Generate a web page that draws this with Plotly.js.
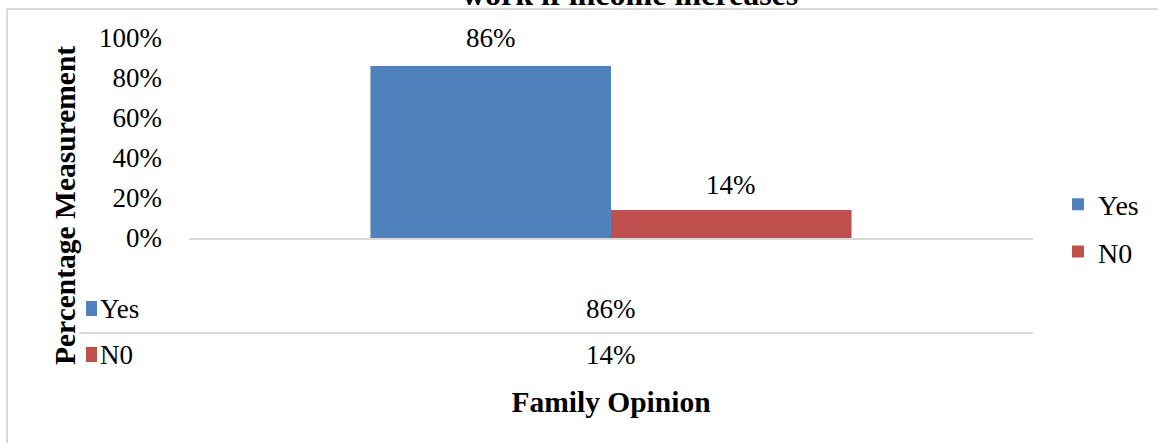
<!DOCTYPE html>
<html>
<head>
<meta charset="utf-8">
<script src="https://cdn.plot.ly/plotly-3.0.1.min.js"></script>
<style>html,body{margin:0;padding:0;background:#fff;}#chart{width:1158px;height:443px;}</style>
</head>
<body>
<div id="chart"></div>
<script>
// ---- data ----
const categories = ['Family Opinion'];
const seriesNames = ['Yes', 'N0'];
const yesValues = [0.86];
const noValues = [0.14];
const yTickValues = [0, 0.2, 0.4, 0.6, 0.8, 1.0];
const yTickLabels = ['0%', '20%', '40%', '60%', '80%', '100%'];
const chartTitle = 'work if income increases';
const yTitle = 'Percentage Measurement';
const xTitle = 'Family Opinion';

// ---- styling ----
const FONT = '"Liberation Serif", "Times New Roman", Times, serif';
const colors = ['#4F81BD', '#C0504D'];
const grey = '#D9D9D9';
const W = 1158, H = 443;
const M = {l: 189, r: 125, t: 38, b: 205};
const plotW = W - M.l - M.r, plotH = H - M.t - M.b;
const px = p => (p - M.l) / plotW;          // pixel x -> paper x
const py = p => (H - M.b - p) / plotH;      // pixel y -> paper y
const bargap = 0.43;
const barW = (1 - bargap) / 2;
const fmt = v => Math.round(v * 100) + '%';

const seriesValues = [yesValues, noValues];

const traces = seriesNames.map((name, i) => ({
  type: 'bar',
  name: name,
  x: categories,
  y: seriesValues[i],
  marker: {color: colors[i]},
  legendgroup: 'g' + i,
  hoverinfo: 'name+y'
}));

const annotations = [];
// value labels above bars
const labelShift = [28, 25];
seriesNames.forEach((name, i) => {
  annotations.push({
    x: (i - 0.5) * barW, xref: 'x', y: seriesValues[i][0], yref: 'y',
    text: fmt(seriesValues[i][0]), showarrow: false,
    yanchor: 'middle', yshift: labelShift[i],
    font: {family: FONT, size: 27, color: '#000'}
  });
});
// data table rows
const rowY = [309, 355];
seriesNames.forEach((name, i) => {
  annotations.push({
    x: px(98), xref: 'paper', y: py(rowY[i]), yref: 'paper',
    text: name, showarrow: false, xanchor: 'left', yanchor: 'middle',
    font: {family: FONT, size: 27, color: '#000'}
  });
  annotations.push({
    x: 0.5, xref: 'paper', y: py(rowY[i]), yref: 'paper',
    text: fmt(seriesValues[i][0]), showarrow: false, xanchor: 'center', yanchor: 'middle',
    font: {family: FONT, size: 27, color: '#000'}
  });
});
// y-axis title (centered on chart + table)
annotations.push({
  x: px(65), xref: 'paper', y: py(206), yref: 'paper',
  text: '<b>' + yTitle + '</b>', showarrow: false, textangle: -90,
  xanchor: 'center', yanchor: 'middle',
  font: {family: FONT, size: 29.5, color: '#000'}
});
// chart title (clipped at top, as in the source)
annotations.push({
  x: px(630), xref: 'paper', y: py(-6), yref: 'paper',
  text: '<b>' + chartTitle + '</b>', showarrow: false,
  xanchor: 'center', yanchor: 'middle',
  font: {family: FONT, size: 32, color: '#000'}
});

const shapes = [
  // outer frame (top and left)
  {type: 'line', xref: 'paper', yref: 'paper', x0: px(7), x1: px(W + 5), y0: py(9), y1: py(9), line: {color: grey, width: 2}},
  {type: 'line', xref: 'paper', yref: 'paper', x0: px(7), x1: px(7), y0: py(9), y1: py(H + 5), line: {color: grey, width: 2}},
  // table separator
  {type: 'line', xref: 'paper', yref: 'paper', x0: px(79), x1: 1, y0: py(333), y1: py(333), line: {color: grey, width: 2}}
];
// table legend keys
seriesNames.forEach((name, i) => {
  shapes.push({
    type: 'rect', xref: 'paper', yref: 'paper',
    x0: px(86), x1: px(97), y0: py(rowY[i] - 8), y1: py(rowY[i] + 7),
    fillcolor: colors[i], line: {width: 0}
  });
});

const layout = {
  width: W, height: H,
  margin: M,
  paper_bgcolor: '#fff', plot_bgcolor: '#fff',
  font: {family: FONT, size: 27, color: '#000'},
  barmode: 'group',
  bargap: bargap,
  bargroupgap: 0,
  showlegend: true,
  legend: {
    x: px(1058), xanchor: 'left', y: py(228), yanchor: 'middle',
    font: {family: FONT, size: 28, color: '#000'},
    tracegroupgap: 8, bgcolor: 'rgba(0,0,0,0)'
  },
  xaxis: {
    type: 'category', range: [-0.5, 0.5], fixedrange: true,
    showline: true, linecolor: grey, linewidth: 2,
    showticklabels: false, ticks: '', showgrid: false, zeroline: false,
    title: {text: '<b>' + xTitle + '</b>', font: {family: FONT, size: 29.5, color: '#000'}, standoff: 152}
  },
  yaxis: {
    range: [0, 1], fixedrange: true,
    tickvals: yTickValues, ticktext: yTickLabels,
    showgrid: false, zeroline: false, showline: false, ticks: '',
    ticklabelstandoff: 26,
    tickfont: {family: FONT, size: 27, color: '#000'}
  },
  annotations: annotations,
  shapes: shapes
};

Plotly.newPlot('chart', traces, layout, {displayModeBar: false, staticPlot: true});
</script>
</body>
</html>
